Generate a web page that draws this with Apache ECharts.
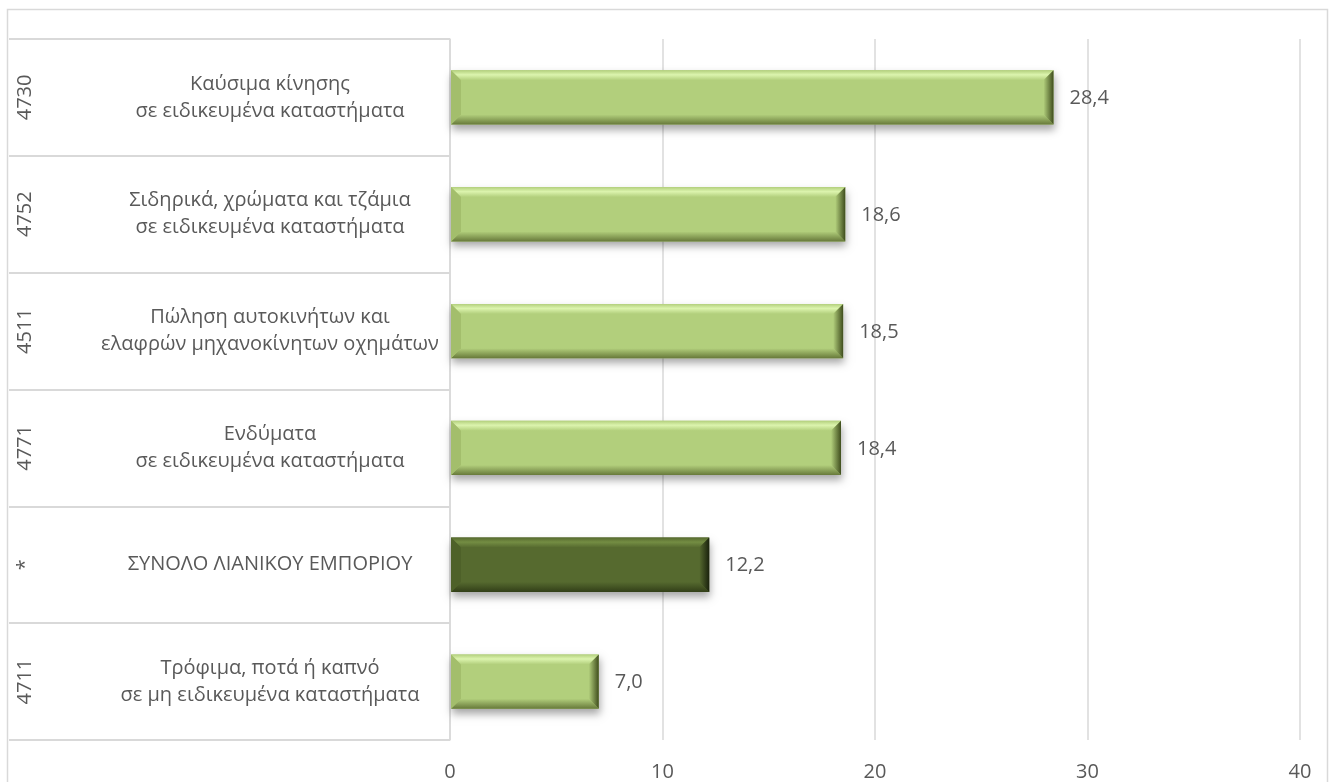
<!DOCTYPE html>
<html>
<head>
<meta charset="utf-8">
<script src="https://cdn.jsdelivr.net/npm/echarts@6/dist/echarts.min.js"></script>
<style>
html,body{margin:0;padding:0;background:#fff;}
#chart{width:1330px;height:782px;}
</style>
</head>
<body>
<div id="chart"></div>
<script>
const codes = ['4730', '4752', '4511', '4771', '*', '4711'];
const descriptions = [
  'Καύσιμα κίνησης\nσε ειδικευμένα καταστήματα',
  'Σιδηρικά, χρώματα και τζάμια\nσε ειδικευμένα καταστήματα',
  'Πώληση αυτοκινήτων και\nελαφρών μηχανοκίνητων οχημάτων',
  'Ενδύματα\nσε ειδικευμένα καταστήματα',
  'ΣΥΝΟΛΟ ΛΙΑΝΙΚΟΥ ΕΜΠΟΡΙΟΥ',
  'Τρόφιμα, ποτά ή καπνό\nσε μη ειδικευμένα καταστήματα'
];
const values = [28.4, 18.6, 18.5, 18.4, 12.2, 7.0];
const isTotal = [false, false, false, false, true, false];
const xTicks = [0, 10, 20, 30, 40];

const FONT = '"Open Sans", "Noto Sans", sans-serif';
const TEXT = '#595959';
const GRID = '#d9d9d9';
const FS = 20;

const palettes = {
  light: { face: '#b2cf7c', top: '#dcf4ae', bottom: '#67793a', left: '#a3be6c', right: '#3f4d1d' },
  dark:  { face: '#566a2f', top: '#748d43', bottom: '#323f18', left: '#4e6129', right: '#1a220d' }
};

const chart = echarts.init(document.getElementById('chart'), null, { renderer: 'canvas' });

function fmt(v) { return v.toFixed(1).replace('.', ','); }

const option = {
  animation: false,
  backgroundColor: '#fff',
  graphic: [{
    type: 'rect', silent: true, z: -1,
    shape: { x: 7.5, y: 9.5, width: 1320, height: 800 },
    style: { fill: 'none', stroke: GRID, lineWidth: 1.5 }
  }],
  grid: { left: 450, right: 30, top: 39, bottom: 42, containLabel: false },
  xAxis: {
    type: 'value', min: 0, max: 40, interval: 10,
    axisLine: { show: false }, axisTick: { show: false },
    splitLine: { show: true, lineStyle: { color: GRID, width: 1.5 } },
    axisLabel: {
      color: TEXT, fontFamily: FONT, fontSize: FS, margin: 22,
      formatter: v => xTicks.includes(v) ? String(v) : ''
    }
  },
  yAxis: [{
    type: 'category', data: descriptions, inverse: true,
    axisLine: { show: true, lineStyle: { color: GRID, width: 1.5 } },
    axisTick: { show: true, length: 441, interval: 0, lineStyle: { color: GRID, width: 2 } },
    axisLabel: {
      interval: 0, color: TEXT, fontFamily: FONT, fontSize: FS, lineHeight: 27,
      margin: 180, align: 'center', verticalAlign: 'middle'
    }
  }, {
    type: 'category', data: codes, inverse: true, position: 'left',
    axisLine: { show: false }, axisTick: { show: false },
    axisLabel: {
      interval: 0, color: TEXT, fontFamily: FONT, fontSize: FS, rotate: 90,
      margin: 425, align: 'center', verticalAlign: 'middle'
    }
  }],
  series: [{
    type: 'custom',
    yAxisIndex: 0,
    data: values.map((v, i) => [v, i]),
    encode: { x: 0, y: 1 },
    renderItem: function (params, api) {
      const v = api.value(0), ci = api.value(1);
      const p0 = api.coord([0, ci]);
      const p1 = api.coord([v, ci]);
      const h = api.size([0, 1])[1] * 0.465;
      const x0 = p0[0] + 1, x1 = p1[0], y0 = p0[1] - h / 2, y1 = p0[1] + h / 2;
      const b = 10;
      const pal = isTotal[params.dataIndex] ? palettes.dark : palettes.light;
      return {
        type: 'group',
        children: [
          { type: 'rect', shape: { x: x0, y: y0, width: x1 - x0, height: y1 - y0 },
            style: { fill: pal.face, shadowBlur: 8, shadowColor: 'rgba(0,0,0,0.35)', shadowOffsetX: 1, shadowOffsetY: 5 } },
          { type: 'polygon', shape: { points: [[x0, y0], [x1, y0], [x1 - b, y0 + b], [x0 + b, y0 + b]] },
            style: { fill: new echarts.graphic.LinearGradient(0, 0, 0, 1, [
              { offset: 0, color: pal.face }, { offset: 0.45, color: pal.top }, { offset: 1, color: pal.face }]) } },
          { type: 'polygon', shape: { points: [[x0, y1], [x1, y1], [x1 - b, y1 - b], [x0 + b, y1 - b]] },
            style: { fill: new echarts.graphic.LinearGradient(0, 0, 0, 1, [
              { offset: 0, color: pal.face }, { offset: 1, color: pal.bottom }]) } },
          { type: 'polygon', shape: { points: [[x0, y0], [x0 + b, y0 + b], [x0 + b, y1 - b], [x0, y1]] },
            style: { fill: pal.left } },
          { type: 'polygon', shape: { points: [[x1, y0], [x1 - b, y0 + b], [x1 - b, y1 - b], [x1, y1]] },
            style: { fill: new echarts.graphic.LinearGradient(0, 0, 1, 0, [
              { offset: 0, color: pal.face }, { offset: 1, color: pal.right }]) } },
          { type: 'text', z2: 10,
            style: { x: x1 + 16, y: p0[1] + 1, text: fmt(v), fill: TEXT, font: FS + 'px ' + FONT,
              align: 'left', verticalAlign: 'middle' } }
        ]
      };
    }
  }]
};
chart.setOption(option);
</script>
</body>
</html>
